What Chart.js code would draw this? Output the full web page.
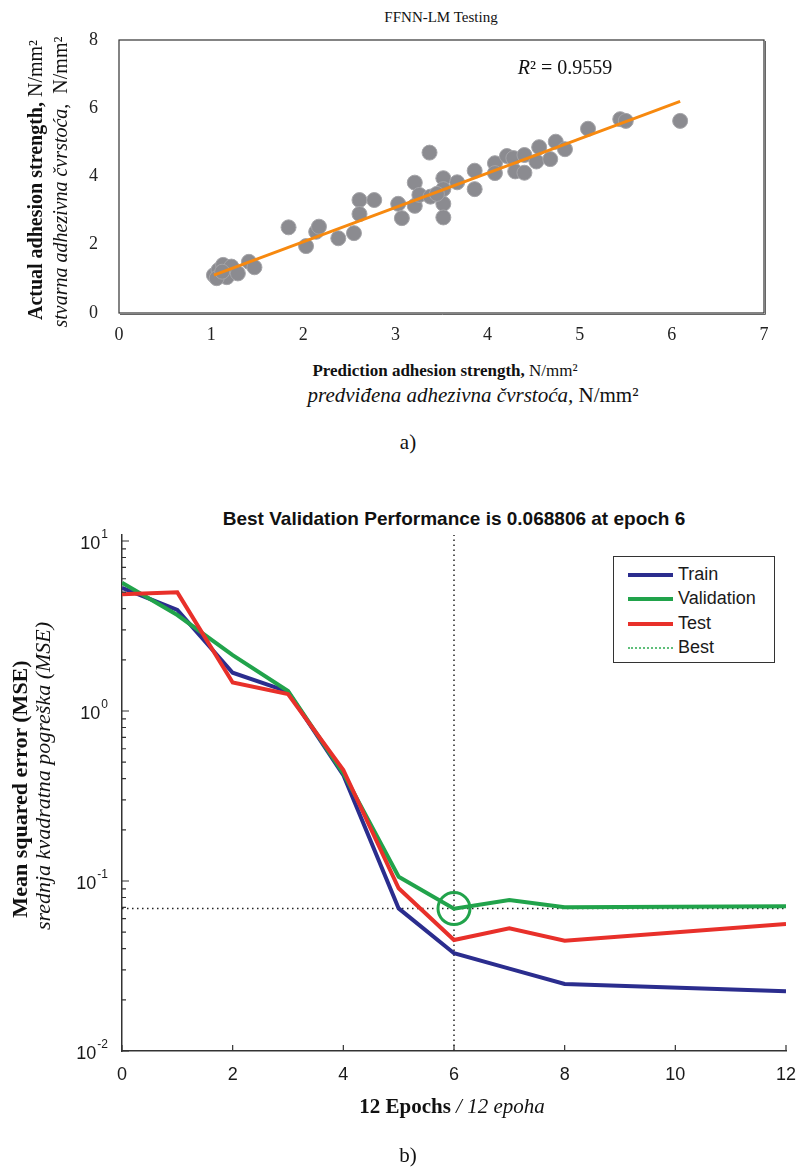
<!DOCTYPE html>
<html>
<head>
<meta charset="utf-8">
<script src="https://cdn.jsdelivr.net/npm/chart.js@4.4.1/dist/chart.umd.min.js"></script>
<style>
  body { margin: 0; background: #fff; }
  #page { position: relative; width: 796px; height: 1171px; background: #fff; color: #111; }
  #page canvas { position: absolute; left: 0; }
  .txt { position: absolute; white-space: nowrap; transform: translate(-50%, -50%); line-height: 1; }
  .serif { font-family: "Liberation Serif", "Times New Roman", serif; }
  .sans { font-family: "Liberation Sans", Arial, sans-serif; }
  .vert { transform: translate(-50%, -50%) rotate(-90deg); }
  .legend { position: absolute; left: 613px; top: 556px; width: 160px; height: 105px; border: 1px solid #333; background: #fff;
            font-family: "Liberation Sans", Arial, sans-serif; font-size: 18px; color: #1a1a1a; }
  .legend div { position: absolute; left: 14px; height: 20px; }
  .legend span.ln { position: absolute; left: 0; top: 9px; width: 45px; height: 0; }
  .legend span.lb { position: absolute; left: 50px; top: 0; line-height: 20px; }
</style>
</head>
<body>
<div id="page">
  <div class="txt serif" style="left:441px;top:17px;font-size:15px;">FFNN-LM Testing</div>
  <canvas id="fitChart" width="796" height="360" style="top:0"></canvas>
  <div class="txt serif" style="left:565px;top:67px;font-size:20px;"><i>R</i>² = 0.9559</div>
  <div class="txt serif vert" style="left:35px;top:180px;font-size:20px;"><b>Actual adhesion strength,</b> N/mm²</div>
  <div class="txt serif vert" style="left:60px;top:182px;font-size:20px;"><i>stvarna adhezivna čvrstoća,</i>&nbsp; N/mm²</div>
  <div class="txt serif" style="left:445px;top:370px;font-size:17px;"><b>Prediction adhesion strength,</b> N/mm²</div>
  <div class="txt serif" style="left:473px;top:395px;font-size:21px;"><i>predviđena adhezivna čvrstoća,</i> N/mm²</div>
  <div class="txt serif" style="left:408px;top:442px;font-size:21px;">a)</div>

  <div class="txt sans" style="left:454px;top:518px;font-size:19px;font-weight:bold;">Best Validation Performance is 0.068806 at epoch 6</div>
  <canvas id="perfChart" width="796" height="640" style="top:490px"></canvas>
  <div class="txt serif vert" style="left:20px;top:789px;font-size:22px;"><b>Mean squared error (MSE)</b></div>
  <div class="txt serif vert" style="left:43px;top:776px;font-size:22px;"><i>srednja kvadratna pogreška (MSE)</i></div>
  <div class="txt serif" style="left:452px;top:1106px;font-size:21px;"><b>12 Epochs</b> <i>/ 12 epoha</i></div>
  <div class="txt serif" style="left:408px;top:1155px;font-size:21px;">b)</div>

  <div class="legend">
    <div style="top:7px;"><span class="ln" style="border-top:4px solid #2b2d8e;"></span><span class="lb">Train</span></div>
    <div style="top:31px;"><span class="ln" style="border-top:4px solid #21a34b;"></span><span class="lb">Validation</span></div>
    <div style="top:56px;"><span class="ln" style="border-top:4px solid #e8302a;"></span><span class="lb">Test</span></div>
    <div style="top:80px;"><span class="ln" style="border-top:2px dotted #5fbf7a;top:10px;"></span><span class="lb">Best</span></div>
  </div>
</div>

<script>
// testing set: predicted vs. actual adhesion strength (N/mm2)
const predicted = [1.03, 1.08, 1.13, 1.17, 1.22, 1.29, 1.41, 1.47, 1.06, 1.12,
                   1.84, 2.03, 2.14, 2.17, 2.38, 2.55, 2.61, 2.61, 2.77, 3.03,
                   3.07, 3.21, 3.21, 3.26, 3.37, 3.38, 3.52, 3.52, 3.52, 3.52,
                   3.45, 3.67, 3.86, 3.86, 4.08, 4.08, 4.21, 4.28, 4.30, 4.40,
                   4.40, 4.53, 4.56, 4.68, 4.74, 4.84, 5.09, 5.44, 5.50, 6.09];
const actual    = [1.11, 1.26, 1.41, 1.05, 1.36, 1.16, 1.50, 1.34, 1.02, 1.21,
                   2.51, 1.96, 2.38, 2.53, 2.19, 2.34, 3.31, 2.90, 3.31, 3.20,
                   2.78, 3.82, 3.14, 3.46, 4.70, 3.41, 3.95, 3.63, 3.20, 2.80,
                   3.49, 3.83, 4.17, 3.63, 4.39, 4.10, 4.60, 4.54, 4.15, 4.11,
                   4.63, 4.44, 4.86, 4.51, 5.02, 4.80, 5.40, 5.68, 5.63, 5.63];
const trendX = [1.03, 6.09];
const trendY = [1.11, 6.20];
const fitXTicks = [0, 1, 2, 3, 4, 5, 6, 7];
const fitYTicks = [0, 2, 4, 6, 8];

// training record: mean squared error per epoch
const trainEpochs = [0, 1, 2, 3, 4, 5, 6, 7, 8, 12];
const trainMse    = [5.31, 3.93, 1.68, 1.30, 0.42, 0.069, 0.0376, 0.0305, 0.0248, 0.0225];
const validEpochs = [0, 1, 2, 3, 4, 5, 6, 7, 8, 12];
const validMse    = [5.69, 3.67, 2.13, 1.31, 0.43, 0.106, 0.068806, 0.0773, 0.0700, 0.0710];
const testEpochs  = [0, 1, 2, 3, 4, 5, 6, 7, 8, 12];
const testMse     = [4.86, 4.99, 1.47, 1.26, 0.45, 0.0906, 0.045, 0.0527, 0.0445, 0.0558];
const bestEpoch = 6;
const bestMse = 0.068806;
const epochTicks = [0, 2, 4, 6, 8, 10, 12];
const mseMin = 0.01, mseMax = 10.85;
const mseDecades = [0.01, 0.1, 1, 10];
const minorSteps = [2, 3, 4, 5, 6, 7, 8, 9];

const pairs = (xs, ys) => xs.map((x, i) => ({ x: x, y: ys[i] }));

// keep the plot area fixed: no extra room for overhanging edge labels
const fixWidth = w => s => { s.width = w; s.paddingTop = 0; s.paddingBottom = 0; };
const fixHeight = h => s => { s.height = h; s.paddingLeft = 0; s.paddingRight = 0; };

// plot area frame for the scatter chart
const frame = {
  id: 'frame',
  afterDraw(chart) {
    const { ctx, chartArea: a } = chart;
    ctx.save();
    ctx.strokeStyle = '#333';
    ctx.lineWidth = 1.2;
    ctx.strokeRect(a.left, a.top, a.right - a.left, a.bottom - a.top);
    ctx.lineWidth = 1;
    ctx.strokeStyle = '#666';
    ctx.beginPath();
    ctx.moveTo(a.left + 1, a.bottom + 1.5); ctx.lineTo(a.right + 1.5, a.bottom + 1.5); ctx.lineTo(a.right + 1.5, a.top + 1);
    ctx.stroke();
    ctx.restore();
  }
};

new Chart(document.getElementById('fitChart'), {
  type: 'scatter',
  data: {
    datasets: [{
      label: 'Linear',
      data: pairs(trendX, trendY),
      showLine: true,
      borderColor: '#f7890f',
      borderWidth: 3,
      pointRadius: 0,
      order: 0
    }, {
      label: 'Testing',
      data: pairs(predicted, actual),
      backgroundColor: '#8b8b90',
      borderColor: '#a4a4a8',
      borderWidth: 1,
      pointRadius: 7.5,
      order: 1
    }]
  },
  options: {
    responsive: false,
    animation: false,
    layout: { autoPadding: false, padding: { left: 79, right: 32, top: 40, bottom: 17 } },
    plugins: { legend: { display: false }, tooltip: { enabled: false } },
    scales: {
      x: {
        type: 'linear', min: 0, max: 7,
        afterBuildTicks: s => { s.ticks = fitXTicks.map(v => ({ value: v })); },
        afterFit: fixHeight(30),
        grid: { display: false, drawTicks: false },
        border: { display: false },
        ticks: { padding: 11, color: '#222', font: { family: 'Liberation Serif', size: 18 } }
      },
      y: {
        type: 'linear', min: 0, max: 8,
        afterBuildTicks: s => { s.ticks = fitYTicks.map(v => ({ value: v })); },
        afterFit: fixWidth(40),
        grid: { display: false, drawTicks: false },
        border: { display: false },
        ticks: { padding: 21, color: '#222', font: { family: 'Liberation Serif', size: 18 } }
      }
    }
  },
  plugins: [frame]
});

// inward tick marks and 10^n labels on the log axis
const matlabAxes = {
  id: 'matlabAxes',
  afterDraw(chart) {
    const { ctx, chartArea: a } = chart;
    const xs = chart.scales.x, ys = chart.scales.y;
    ctx.save();
    ctx.strokeStyle = '#333';
    ctx.lineWidth = 1.2;
    ctx.beginPath();
    epochTicks.forEach(v => {
      const px = xs.getPixelForValue(v);
      ctx.moveTo(px, a.bottom); ctx.lineTo(px, a.bottom - 6);
    });
    mseDecades.forEach(d => {
      const py = ys.getPixelForValue(d);
      ctx.moveTo(a.left, py); ctx.lineTo(a.left + 7, py);
      if (d < 10) {
        minorSteps.forEach(m => {
          const my = ys.getPixelForValue(d * m);
          ctx.moveTo(a.left, my); ctx.lineTo(a.left + 4, my);
        });
      }
    });
    ctx.stroke();

    ctx.fillStyle = '#1a1a1a';
    ctx.textBaseline = 'middle';
    ctx.textAlign = 'right';
    mseDecades.forEach(d => {
      const py = ys.getPixelForValue(d);
      const exp = String(Math.round(Math.log10(d)));
      const right = a.left - 14;
      ctx.font = '12px "Liberation Sans", Arial';
      const ew = ctx.measureText(exp).width;
      ctx.fillText(exp, right, py - 6);
      ctx.font = '18px "Liberation Sans", Arial';
      ctx.fillText('10', right - ew - 1, py + 3);
    });
    ctx.restore();
  }
};

new Chart(document.getElementById('perfChart'), {
  type: 'scatter',
  data: {
    datasets: [{
      label: 'Train',
      data: pairs(trainEpochs, trainMse),
      showLine: true, borderColor: '#2b2d8e', borderWidth: 4, pointRadius: 0, order: 3
    }, {
      label: 'Validation',
      data: pairs(validEpochs, validMse),
      showLine: true, borderColor: '#21a34b', borderWidth: 4, pointRadius: 0, order: 2
    }, {
      label: 'Test',
      data: pairs(testEpochs, testMse),
      showLine: true, borderColor: '#e8302a', borderWidth: 4, pointRadius: 0, order: 1
    }, {
      label: 'Best',
      data: [{ x: bestEpoch, y: mseMin }, { x: bestEpoch, y: mseMax }],
      showLine: true, borderColor: '#222', borderWidth: 1.5, borderDash: [1.5, 3.5], pointRadius: 0, order: 5
    }, {
      label: 'Best level',
      data: [{ x: epochTicks[0], y: bestMse }, { x: epochTicks[epochTicks.length - 1], y: bestMse }],
      showLine: true, borderColor: '#222', borderWidth: 1.5, borderDash: [1.5, 3.5], pointRadius: 0, order: 5
    }, {
      label: 'Best point',
      data: [{ x: bestEpoch, y: bestMse }],
      pointRadius: 16, pointBorderWidth: 3, pointBorderColor: '#21a34b',
      pointBackgroundColor: 'rgba(0,0,0,0)', order: 0
    }]
  },
  options: {
    responsive: false,
    animation: false,
    layout: { autoPadding: false, padding: { left: 72, right: 10, top: 45, bottom: 39 } },
    plugins: { legend: { display: false }, tooltip: { enabled: false } },
    scales: {
      x: {
        type: 'linear', min: 0, max: 12,
        afterBuildTicks: s => { s.ticks = epochTicks.map(v => ({ value: v })); },
        afterFit: fixHeight(40),
        grid: { display: false, drawTicks: false },
        border: { display: true, color: '#333', width: 1.5 },
        ticks: { padding: 13, color: '#1a1a1a', font: { family: 'Liberation Sans', size: 18 } }
      },
      y: {
        type: 'logarithmic', min: mseMin, max: mseMax,
        afterFit: fixWidth(50),
        grid: { display: false, drawTicks: false },
        border: { display: true, color: '#333', width: 1.5 },
        ticks: { display: false }
      }
    }
  },
  plugins: [matlabAxes]
});
</script>
</body>
</html>
